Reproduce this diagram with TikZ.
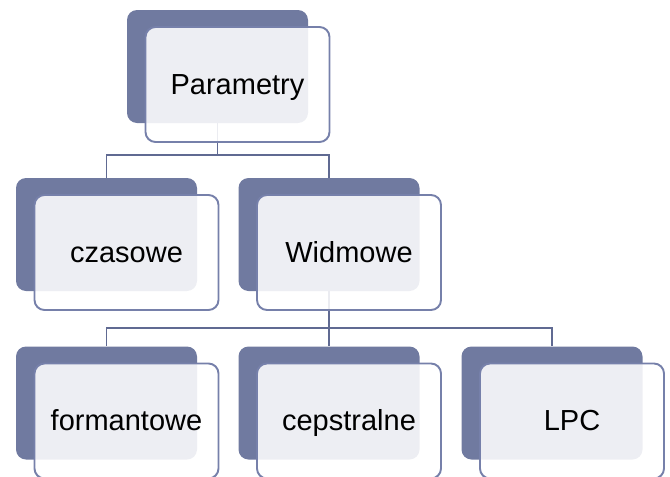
\documentclass[tikz,border=0pt]{standalone}
\usepackage{fontspec}
\setmainfont{Liberation Sans}
\usepackage{xcolor}

\definecolor{backblue}{RGB}{112,122,160}
\definecolor{edgeblue}{RGB}{118,128,170}
\definecolor{linkblue}{RGB}{96,106,146}

\tikzset{
  backbox/.style={fill=backblue, rounded corners=10pt, minimum width=181pt, minimum height=113pt, inner sep=0pt},
  frontbox/.style={draw=edgeblue, line width=1.9pt, fill=white, fill opacity=0.88, text opacity=1,
    rounded corners=10pt, minimum width=184pt, minimum height=115pt, inner sep=0pt,
    text height=20pt, text depth=1pt, font=\fontsize{29}{34}\selectfont},
  link/.style={draw=linkblue, line width=1.7pt}
}

\begin{document}
\begin{tikzpicture}[x=1pt, y=-1pt]
        \clip (0,0) rectangle (670,477);
        % Draw the dark back boxes
        \node[backbox] (parB) at (217.5,66.5) {};
        \node[backbox] (czaB) at (106.5,234.5) {};
        \node[backbox] (widB) at (329,234.5) {};
        \foreach \n/\x in {forB/106.5, cepB/329, lpcB/552} {
            \node[backbox] (\n) at (\x,403) {};
        }
        % Draw the connectors between the back boxes
        \draw[link] (parB.south) -- ++(0,32) -| (czaB.north);
        \draw[link] (parB.south) -- ++(0,32) -| (widB.north);
        \foreach \n in {forB, cepB, lpcB} {
            \draw[link] (widB.south) -- ++(0,37) -| (\n.north);
        }
        % Draw the light front boxes with the labels
        \node[frontbox] (par) at ([shift={(20,18)}]parB) {Parametry};
        \node[frontbox] (cza) at ([shift={(20,18)}]czaB) {czasowe};
        \node[frontbox] (wid) at ([shift={(20,18)}]widB) {Widmowe};
        \node[frontbox] (for) at ([shift={(20,18)}]forB) {formantowe};
        \node[frontbox] (cep) at ([shift={(20,18)}]cepB) {cepstralne};
        \node[frontbox] (lpc) at ([shift={(20,18)}]lpcB) {LPC};
    \end{tikzpicture}
\end{document}
